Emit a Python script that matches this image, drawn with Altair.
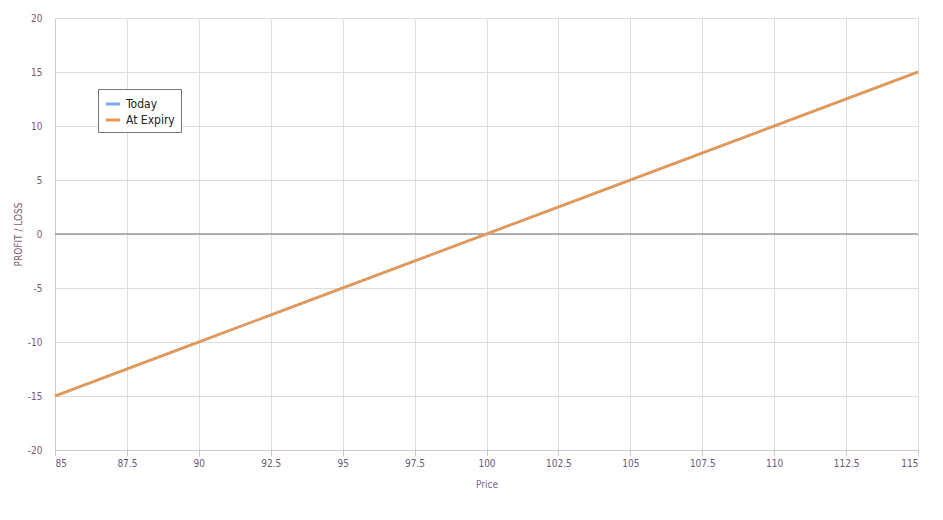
import altair as alt
import pandas as pd

price = [85, 87.5, 90, 92.5, 95, 97.5, 100, 102.5, 105, 107.5, 110, 112.5, 115]
today = [-15, -12.5, -10, -7.5, -5, -2.5, 0, 2.5, 5, 7.5, 10, 12.5, 15]
expiry = [-15, -12.5, -10, -7.5, -5, -2.5, 0, 2.5, 5, 7.5, 10, 12.5, 15]
y_ticks = [-20, -15, -10, -5, 0, 5, 10, 15, 20]

rows = []
for p, v in zip(price, today):
    rows.append({"Price": p, "PnL": v, "Series": "Today"})
for p, v in zip(price, expiry):
    rows.append({"Price": p, "PnL": v, "Series": "At Expiry"})
df = pd.DataFrame(rows)

FONT = "DejaVu Sans Condensed, DejaVu Sans"

lines = alt.Chart(df).mark_line(strokeWidth=2.5).encode(
    x=alt.X("Price:Q", scale=alt.Scale(domain=[85, 115], nice=False),
            axis=alt.Axis(values=price, title="Price", grid=True, tickSize=6,
                          tickColor="#c5cbd8", domainColor="#cccccc",
                          labelColor="#6a5a7a", titleColor="#7a6a8a",
                          labelFontSize=10, titleFontSize=10, titleFontWeight="normal",
                          labelFont=FONT, titleFont=FONT, titlePadding=11,
                          labelExpr="toString(datum.value)",
                          labelOverlap=False)),
    y=alt.Y("PnL:Q", scale=alt.Scale(domain=[-20, 20], nice=False),
            axis=alt.Axis(values=y_ticks, title="PROFIT / LOSS",
                          grid=True, ticks=False, domainColor="#cccccc",
                          labelColor="#7a5a6a", titleColor="#7a5a6a",
                          labelFontSize=10, titleFontSize=10, titleFontWeight="normal",
                          labelFont=FONT, titleFont=FONT, labelPadding=13, titlePadding=4,
                          labelExpr="toString(datum.value)")),
    color=alt.Color("Series:N", sort=["Today", "At Expiry"],
                    scale=alt.Scale(domain=["Today", "At Expiry"], range=["#7ea6e8", "#e8994f"]),
                    legend=alt.Legend(title=None, orient="none", legendX=43, legendY=71,
                                      strokeColor="#777777", fillColor="white", padding=6,
                                      symbolType="stroke", symbolStrokeWidth=3, symbolSize=200,
                                      labelFont=FONT, labelFontSize=12, labelColor="#222222",
                                      rowPadding=1)),
    order=alt.Order("ord:Q"),
).transform_calculate(ord="datum.Series == 'Today' ? 0 : 1")

zero = alt.Chart(pd.DataFrame({"y": [0]})).mark_rule(color="#999999", strokeWidth=1.5).encode(y="y:Q")

chart = alt.layer(zero, lines).properties(width=863, height=432).configure_view(stroke=None).configure_axis(
    gridColor="#dddddd")

chart.save("out.html", embed_options={"renderer": "svg", "actions": False})
